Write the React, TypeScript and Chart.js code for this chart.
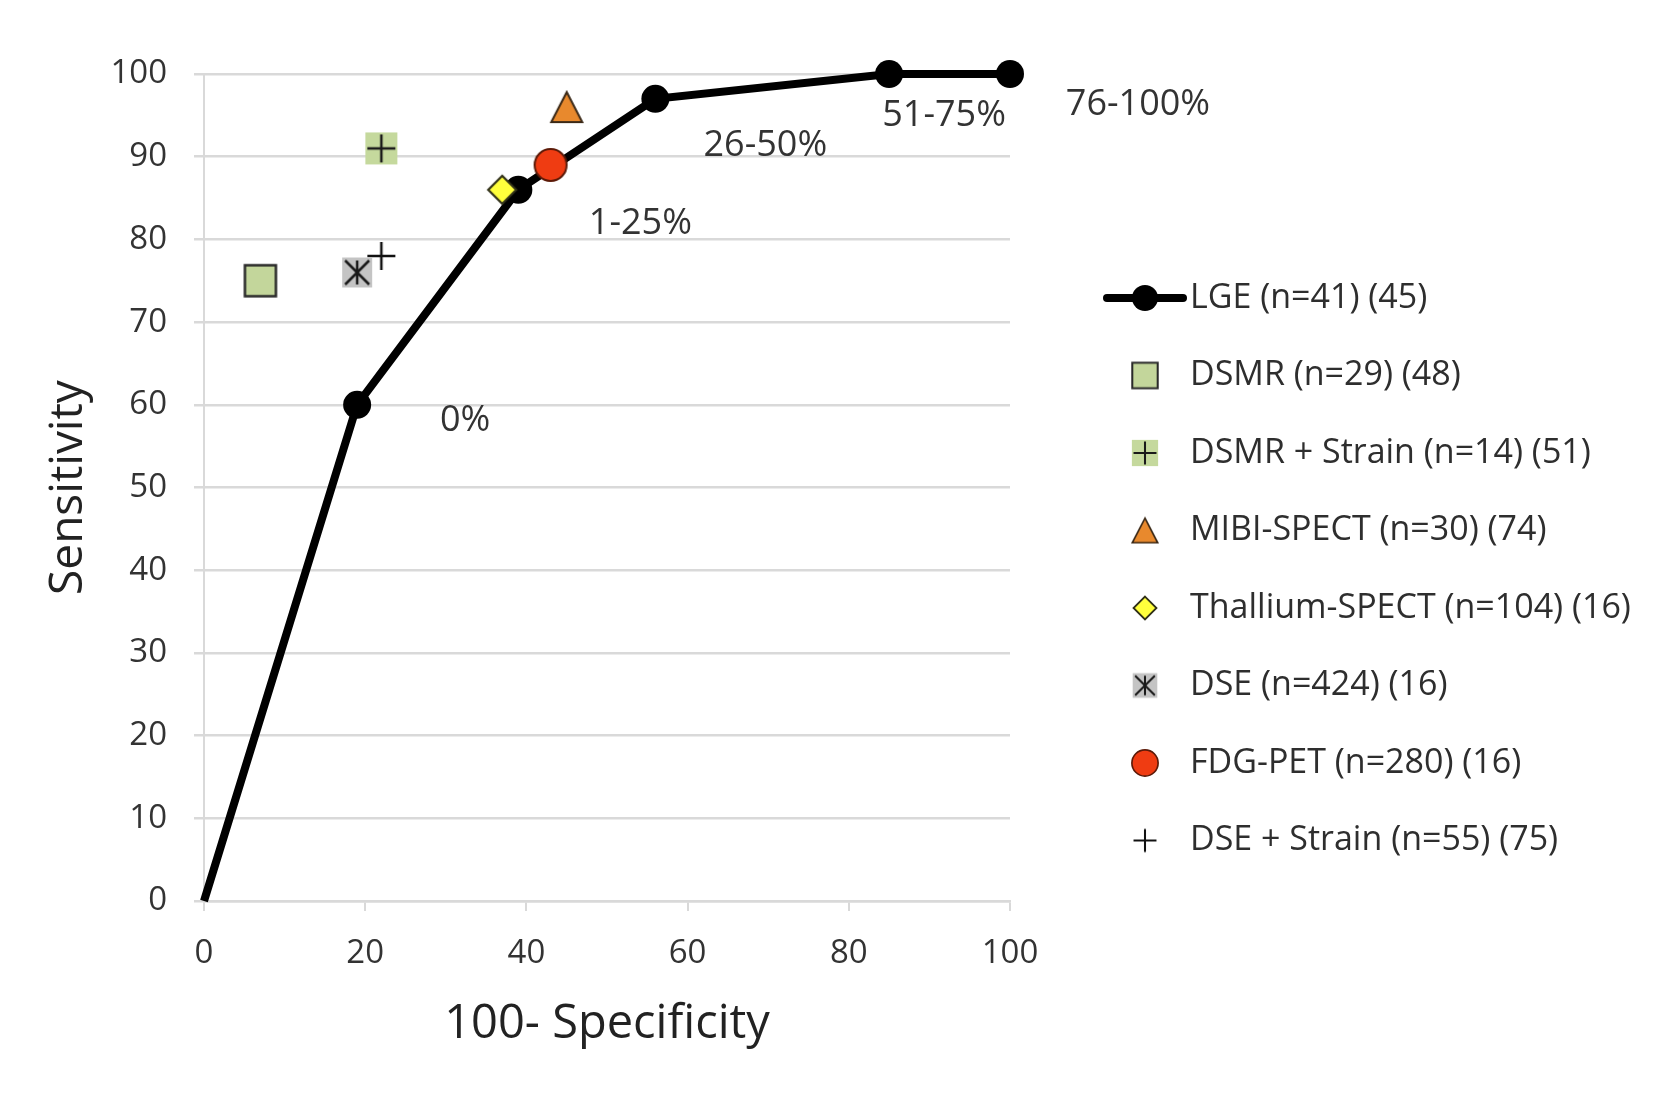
import React, { useEffect, useRef } from 'react';
import { Chart, registerables } from 'chart.js';

Chart.register(...registerables);

// ---- Data ----
const xTickValues = [0, 20, 40, 60, 80, 100];
const yTickValues = [0, 10, 20, 30, 40, 50, 60, 70, 80, 90, 100];

const lgeName = 'LGE (n=41) (45)';
const lgeX = [0, 19, 39, 56, 85, 100];
const lgeY = [0, 60, 86, 97, 100, 100];
const lgeLabels = ['', '0%', '1-25%', '26-50%', '51-75%', '76-100%'];

const otherNames = [
  'DSMR (n=29) (48)',
  'DSMR + Strain (n=14) (51)',
  'MIBI-SPECT (n=30) (74)',
  'Thallium-SPECT (n=104) (16)',
  'DSE (n=424) (16)',
  'FDG-PET (n=280) (16)',
  'DSE + Strain (n=55) (75)',
];
const otherX = [7, 22, 45, 37, 19, 43, 22];
const otherY = [75, 91, 96, 86, 76, 89, 78];
const otherKinds = ['square', 'squarePlus', 'triangle', 'diamond', 'star', 'circleRed', 'plus'];

// label offsets (pixels) of the LGE threshold annotations relative to their points
const lgeLabelOffsets = [
  [0, 0],
  [108, 16],
  [122, 34],
  [110, 47],
  [55, 42],
  [128, 31],
];

const FONT = 'Open Sans';

function makeCanvas(w: number, h: number, draw: (ctx: CanvasRenderingContext2D) => void) {
  const c = document.createElement('canvas');
  c.width = w;
  c.height = h;
  const ctx = c.getContext('2d')!;
  draw(ctx);
  return c;
}

function marker(kind: string, k: number): HTMLCanvasElement {
  if (kind === 'lge') {
    const W = Math.round(84 * k);
    const H = Math.round(30 * k);
    return makeCanvas(W, H, (ctx) => {
      ctx.strokeStyle = '#000';
      ctx.lineWidth = 8 * k;
      ctx.lineCap = 'round';
      ctx.beginPath();
      ctx.moveTo(4 * k, H / 2);
      ctx.lineTo(W - 4 * k, H / 2);
      ctx.stroke();
      ctx.fillStyle = '#000';
      ctx.beginPath();
      ctx.arc(W / 2, H / 2, 13 * k, 0, Math.PI * 2);
      ctx.fill();
    });
  }
  const S = Math.round(42 * k);
  const m = S / 2;
  return makeCanvas(S, S, (ctx) => {
    ctx.lineJoin = 'miter';
    if (kind === 'square') {
      const a = 31 * k;
      ctx.fillStyle = '#c3d69b';
      ctx.strokeStyle = '#2a2a2a';
      ctx.lineWidth = 2.5 * k;
      ctx.beginPath();
      ctx.rect(m - a / 2, m - a / 2, a, a);
      ctx.fill();
      ctx.stroke();
    } else if (kind === 'squarePlus') {
      const a = 32 * k;
      ctx.fillStyle = '#c5d99d';
      ctx.fillRect(m - a / 2, m - a / 2, a, a);
      ctx.strokeStyle = '#1a1a1a';
      ctx.lineWidth = 2.5 * k;
      ctx.beginPath();
      ctx.moveTo(m - a / 2 + 2 * k, m);
      ctx.lineTo(m + a / 2 - 2 * k, m);
      ctx.moveTo(m, m - a / 2 + 2 * k);
      ctx.lineTo(m, m + a / 2 - 2 * k);
      ctx.stroke();
    } else if (kind === 'triangle') {
      const w = 31 * k;
      const h = 30 * k;
      ctx.fillStyle = '#e8892d';
      ctx.strokeStyle = '#3a2816';
      ctx.lineWidth = 2 * k;
      ctx.beginPath();
      ctx.moveTo(m, m - h / 2);
      ctx.lineTo(m + w / 2, m + h / 2);
      ctx.lineTo(m - w / 2, m + h / 2);
      ctx.closePath();
      ctx.fill();
      ctx.stroke();
    } else if (kind === 'diamond') {
      const r = 14 * k;
      ctx.fillStyle = '#ffff3c';
      ctx.strokeStyle = '#303018';
      ctx.lineWidth = 2.2 * k;
      ctx.beginPath();
      ctx.moveTo(m, m - r);
      ctx.lineTo(m + r, m);
      ctx.lineTo(m, m + r);
      ctx.lineTo(m - r, m);
      ctx.closePath();
      ctx.fill();
      ctx.stroke();
    } else if (kind === 'star') {
      const a = 30 * k;
      ctx.fillStyle = '#c4c4c4';
      ctx.fillRect(m - a / 2, m - a / 2, a, a);
      ctx.strokeStyle = '#1a1a1a';
      ctx.lineWidth = 2.5 * k;
      const d = a / 2 - 3 * k;
      ctx.beginPath();
      ctx.moveTo(m - d, m - d);
      ctx.lineTo(m + d, m + d);
      ctx.moveTo(m + d, m - d);
      ctx.lineTo(m - d, m + d);
      ctx.moveTo(m, m - d);
      ctx.lineTo(m, m + d);
      ctx.stroke();
    } else if (kind === 'circleRed') {
      const r = 16 * k;
      ctx.fillStyle = '#ef3c12';
      ctx.strokeStyle = '#5c1a08';
      ctx.lineWidth = 2 * k;
      ctx.beginPath();
      ctx.arc(m, m, r, 0, Math.PI * 2);
      ctx.fill();
      ctx.stroke();
    } else if (kind === 'plus') {
      const a = 28 * k;
      ctx.strokeStyle = '#111';
      ctx.lineWidth = 2.5 * k;
      ctx.beginPath();
      ctx.moveTo(m - a / 2, m);
      ctx.lineTo(m + a / 2, m);
      ctx.moveTo(m, m - a / 2);
      ctx.lineTo(m, m + a / 2);
      ctx.stroke();
    }
  });
}

const labelPlugin = {
  id: 'lgeLabels',
  afterDatasetsDraw(chart: any) {
    const ctx = chart.ctx;
    const meta = chart.getDatasetMeta(chart.data.datasets.length - 1);
    ctx.save();
    ctx.font = `36px "${FONT}"`;
    ctx.fillStyle = '#333333';
    ctx.textAlign = 'center';
    ctx.textBaseline = 'middle';
    meta.data.forEach((pt: any, i: number) => {
      if (!lgeLabels[i]) return;
      const off = lgeLabelOffsets[i];
      ctx.fillText(lgeLabels[i], pt.x + off[0], pt.y + off[1]);
    });
    ctx.restore();
  },
};

const legendPlugin = {
  id: 'sideLegend',
  afterDraw(chart: any) {
    const ctx = chart.ctx;
    const area = chart.chartArea;
    const names = [lgeName, ...otherNames];
    const kinds = ['lge', ...otherKinds];
    const mx = area.right + 135;
    const tx = area.right + 180;
    const y0 = area.top + 224;
    const step = 77.5;
    ctx.save();
    ctx.font = `34px "${FONT}"`;
    ctx.fillStyle = '#2e2e2e';
    ctx.textAlign = 'left';
    ctx.textBaseline = 'middle';
    names.forEach((name, i) => {
      const y = y0 + i * step;
      const img = marker(kinds[i], kinds[i] === 'lge' ? 1 : 0.82);
      ctx.drawImage(img, mx - img.width / 2, y - img.height / 2);
      ctx.fillText(name, tx, y);
    });
    ctx.restore();
  },
};

export default function App() {
  const ref = useRef<HTMLCanvasElement | null>(null);

  useEffect(() => {
    document.body.style.margin = '0';
    document.body.style.overflow = 'hidden';
    const canvas = ref.current!;
    const otherDatasets = otherNames.map((name, i) => ({
      type: 'scatter' as const,
      label: name,
      data: [{ x: otherX[i], y: otherY[i] }],
      pointStyle: marker(otherKinds[i], 1),
      pointRadius: 16,
      pointHoverRadius: 16,
      order: 0,
      clip: false,
    }));
    const lgeDataset = {
      type: 'line' as const,
      label: lgeName,
      data: lgeX.map((x, i) => ({ x, y: lgeY[i] })),
      showLine: true,
      borderColor: '#000',
      borderWidth: 8,
      backgroundColor: '#000',
      pointBackgroundColor: '#000',
      pointBorderColor: '#000',
      pointRadius: lgeX.map((_, i) => (i === 0 ? 0 : 14)),
      pointHoverRadius: lgeX.map((_, i) => (i === 0 ? 0 : 14)),
      pointBorderWidth: 0,
      tension: 0,
      fill: false,
      order: 10,
      clip: false,
    };

    const chart = new Chart(canvas, {
      type: 'scatter',
      data: { datasets: [...otherDatasets, lgeDataset] as any },
      options: {
        responsive: false,
        animation: false,
        events: [],
        layout: { padding: { top: 74, left: 0, right: 649, bottom: 0 } },
        plugins: {
          legend: { display: false },
          tooltip: { enabled: false },
        },
        scales: {
          x: {
            type: 'linear',
            min: 0,
            max: 100,
            afterBuildTicks: (s: any) => {
              s.ticks = xTickValues.map((v) => ({ value: v }));
            },
            afterFit: (s: any) => {
              s.height = 194;
            },
            grid: {
              drawOnChartArea: false,
              drawTicks: true,
              tickLength: 10,
              color: '#d9d9d9',
              lineWidth: 2,
            },
            border: { display: true, color: '#d9d9d9', width: 2.5 },
            ticks: {
              padding: 23,
              font: { family: FONT, size: 33 },
              color: '#333333',
            },
            title: {
              display: true,
              text: '100- Specificity',
              font: { family: FONT, size: 47 },
              color: '#222222',
              padding: { top: 0, bottom: 42 },
            },
          },
          y: {
            type: 'linear',
            min: 0,
            max: 100,
            afterBuildTicks: (s: any) => {
              s.ticks = yTickValues.map((v) => ({ value: v }));
            },
            afterFit: (s: any) => {
              s.width = 204;
            },
            grid: {
              color: '#d9d9d9',
              lineWidth: 2.5,
              tickLength: 10,
            },
            border: { display: true, color: '#d9d9d9', width: 2 },
            ticks: {
              padding: 27,
              font: { family: FONT, size: 33 },
              color: '#333333',
            },
            title: {
              display: true,
              text: 'Sensitivity',
              font: { family: FONT, size: 46 },
              color: '#222222',
              padding: { top: 41, bottom: 0 },
            },
          },
        },
      },
      plugins: [labelPlugin, legendPlugin],
    });
    return () => chart.destroy();
  }, []);

  return (
    <div style={{ width: 1659, height: 1095, background: '#fff' }}>
      <canvas ref={ref} width={1659} height={1095} style={{ display: 'block' }} />
    </div>
  );
}
